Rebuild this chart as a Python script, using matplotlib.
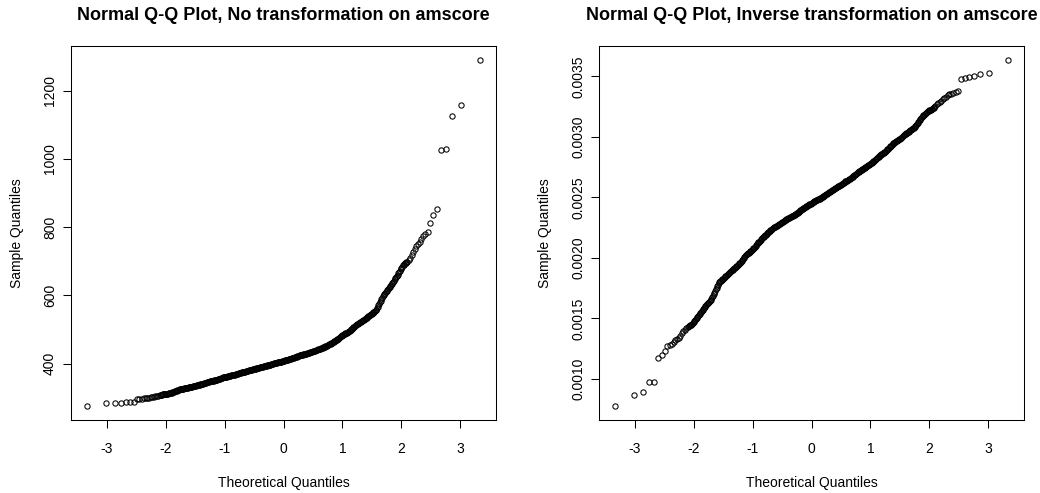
import numpy as np
import matplotlib
matplotlib.use("Agg")
import matplotlib.pyplot as plt
from matplotlib.ticker import FormatStrFormatter

plt.rcParams['font.family'] = ['Liberation Sans', 'DejaVu Sans']
plt.rcParams['axes.unicode_minus'] = False

# sorted amscore, with its theoretical quantiles
# lower tail (single points)
theo_q_low = [-3.34, -3.02, -2.865, -2.755, -2.67, -2.60, -2.545, -2.495, -2.45, -2.41,
              -2.37, -2.34, -2.31, -2.28, -2.25, -2.225, -2.20, -2.18, -2.155, -2.135]
amscore_low = [275, 283.5, 284, 285.5, 286, 286.5, 287.5, 296, 296.8, 297.3,
               297.8, 298.3, 299, 300, 301, 302, 303, 304, 305, 306]

# body of the distribution (the solid band)
theo_q_body = [
    -2.1000, -2.0875, -2.0750, -2.0625, -2.0500, -2.0375, -2.0250, -2.0125,
    -2.0000, -1.9875, -1.9750, -1.9625, -1.9500, -1.9375, -1.9250, -1.9125,
    -1.9000, -1.8875, -1.8750, -1.8625, -1.8500, -1.8375, -1.8250, -1.8125,
    -1.8000, -1.7875, -1.7750, -1.7625, -1.7500, -1.7375, -1.7250, -1.7125,
    -1.7000, -1.6875, -1.6750, -1.6625, -1.6500, -1.6375, -1.6250, -1.6125,
    -1.6000, -1.5875, -1.5750, -1.5625, -1.5500, -1.5375, -1.5250, -1.5125,
    -1.5000, -1.4875, -1.4750, -1.4625, -1.4500, -1.4375, -1.4250, -1.4125,
    -1.4000, -1.3875, -1.3750, -1.3625, -1.3500, -1.3375, -1.3250, -1.3125,
    -1.3000, -1.2875, -1.2750, -1.2625, -1.2500, -1.2375, -1.2250, -1.2125,
    -1.2000, -1.1875, -1.1750, -1.1625, -1.1500, -1.1375, -1.1250, -1.1125,
    -1.1000, -1.0875, -1.0750, -1.0625, -1.0500, -1.0375, -1.0250, -1.0125,
    -1.0000, -0.9875, -0.9750, -0.9625, -0.9500, -0.9375, -0.9250, -0.9125,
    -0.9000, -0.8875, -0.8750, -0.8625, -0.8500, -0.8375, -0.8250, -0.8125,
    -0.8000, -0.7875, -0.7750, -0.7625, -0.7500, -0.7375, -0.7250, -0.7125,
    -0.7000, -0.6875, -0.6750, -0.6625, -0.6500, -0.6375, -0.6250, -0.6125,
    -0.6000, -0.5875, -0.5750, -0.5625, -0.5500, -0.5375, -0.5250, -0.5125,
    -0.5000, -0.4875, -0.4750, -0.4625, -0.4500, -0.4375, -0.4250, -0.4125,
    -0.4000, -0.3875, -0.3750, -0.3625, -0.3500, -0.3375, -0.3250, -0.3125,
    -0.3000, -0.2875, -0.2750, -0.2625, -0.2500, -0.2375, -0.2250, -0.2125,
    -0.2000, -0.1875, -0.1750, -0.1625, -0.1500, -0.1375, -0.1250, -0.1125,
    -0.1000, -0.0875, -0.0750, -0.0625, -0.0500, -0.0375, -0.0250, -0.0125,
    0.0000, 0.0125, 0.0250, 0.0375, 0.0500, 0.0625, 0.0750, 0.0875,
    0.1000, 0.1125, 0.1250, 0.1375, 0.1500, 0.1625, 0.1750, 0.1875,
    0.2000, 0.2125, 0.2250, 0.2375, 0.2500, 0.2625, 0.2750, 0.2875,
    0.3000, 0.3125, 0.3250, 0.3375, 0.3500, 0.3625, 0.3750, 0.3875,
    0.4000, 0.4125, 0.4250, 0.4375, 0.4500, 0.4625, 0.4750, 0.4875,
    0.5000, 0.5125, 0.5250, 0.5375, 0.5500, 0.5625, 0.5750, 0.5875,
    0.6000, 0.6125, 0.6250, 0.6375, 0.6500, 0.6625, 0.6750, 0.6875,
    0.7000, 0.7125, 0.7250, 0.7375, 0.7500, 0.7625, 0.7750, 0.7875,
    0.8000, 0.8125, 0.8250, 0.8375, 0.8500, 0.8625, 0.8750, 0.8875,
    0.9000, 0.9125, 0.9250, 0.9375, 0.9500, 0.9625, 0.9750, 0.9875,
    1.0000, 1.0125, 1.0250, 1.0375, 1.0500, 1.0625, 1.0750, 1.0875,
    1.1000, 1.1125, 1.1250, 1.1375, 1.1500, 1.1625, 1.1750, 1.1875,
    1.2000, 1.2125, 1.2250, 1.2375, 1.2500, 1.2625, 1.2750, 1.2875,
    1.3000, 1.3125, 1.3250, 1.3375, 1.3500, 1.3625, 1.3750, 1.3875,
    1.4000, 1.4125, 1.4250, 1.4375, 1.4500, 1.4625, 1.4750, 1.4875,
    1.5000, 1.5125, 1.5250, 1.5375, 1.5500, 1.5625, 1.5750, 1.5875,
    1.6000, 1.6125, 1.6250, 1.6375, 1.6500, 1.6625, 1.6750, 1.6875,
    1.7000, 1.7125, 1.7250, 1.7375, 1.7500, 1.7625, 1.7750, 1.7875,
    1.8000, 1.8125, 1.8250, 1.8375, 1.8500, 1.8625, 1.8750, 1.8875,
    1.9000, 1.9125, 1.9250, 1.9375, 1.9500, 1.9625, 1.9750, 1.9875,
    2.0000, 2.0125, 2.0250, 2.0375, 2.0500, 2.0625, 2.0750, 2.0875,
    2.1000]
amscore_body = [
    307.5, 308, 308.5, 309, 309.5, 309.8, 310, 310.3,
    310.5, 311, 311.5, 312, 312.5, 313, 313.5, 314,
    314.5, 315.2, 316, 317, 318, 318.8, 319.5, 320.2,
    321, 322, 323, 323.8, 324.5, 325, 325.5, 326,
    326.5, 327, 327.5, 328, 328.5, 329, 329.5, 330,
    330.5, 331, 331.5, 332, 332.5, 333.2, 334, 334.5,
    335, 335.5, 336, 336.5, 337, 337.5, 338, 338.5,
    339, 339.5, 340, 340.8, 341.5, 342.2, 343, 343.8,
    344.5, 345.2, 346, 346.8, 347.5, 348, 348.5, 349,
    349.5, 350, 350.5, 351.2, 352, 352.5, 353, 353.8,
    354.5, 355.2, 356, 356.8, 357.5, 358.2, 359, 359.5,
    360, 360.5, 361, 361.5, 362, 362.5, 363, 363.8,
    364.5, 365, 365.5, 366, 366.5, 367, 367.5, 368.2,
    369, 369.5, 370, 370.8, 371.5, 372.2, 373, 373.8,
    374.5, 375, 375.5, 376, 376.5, 377.2, 378, 378.5,
    379, 379.5, 380, 380.8, 381.5, 382, 382.5, 383.2,
    384, 384.5, 385, 385.5, 386, 386.5, 387, 387.8,
    388.5, 389, 389.5, 390.2, 391, 391.5, 392, 392.8,
    393.5, 394, 394.5, 395.2, 396, 396.5, 397, 397.8,
    398.5, 399, 399.5, 400.2, 401, 401.5, 402, 402.5,
    403, 403.5, 404, 404.5, 405, 405.8, 406.5, 407.2,
    408, 408.5, 409, 409.5, 410, 410.8, 411.5, 412,
    412.5, 413.2, 414, 414.8, 415.5, 416.2, 417, 418,
    419, 419.8, 420.5, 421.2, 422, 422.8, 423.5, 424.2,
    425, 425.5, 426, 426.5, 427, 427.8, 428.5, 429,
    429.5, 430.2, 431, 431.8, 432.5, 433.2, 434, 434.8,
    435.5, 436.2, 437, 438, 439, 439.8, 440.5, 441.2,
    442, 442.8, 443.5, 444.2, 445, 446, 447, 448,
    449, 450, 451, 452.2, 453.5, 454.8, 456, 457.2,
    458.5, 459.8, 461, 462.5, 464, 465.5, 467, 468.5,
    470, 471.5, 473, 474.5, 476, 477.8, 479.5, 481.2,
    483, 484.2, 485.5, 486.8, 488, 489.2, 490.5, 491.8,
    493, 494.8, 496.5, 498.2, 500, 502, 504, 506,
    508, 509.8, 511.5, 513.2, 515, 516.5, 518, 519.5,
    521, 522.5, 524, 525.5, 527, 528.5, 530, 531.5,
    533, 534.5, 536, 537.8, 539.5, 541.2, 543, 544.8,
    546.5, 548.2, 550, 551.5, 553, 555.5, 558, 562,
    566, 570.5, 575, 579.5, 584, 588.5, 593, 597,
    601, 604, 607, 610, 613, 616, 619, 622,
    625, 628, 631, 634, 637, 640, 643, 646.5,
    650, 653.5, 657, 660.5, 664, 668, 672, 676,
    680, 684, 688, 690, 692, 693.5, 695, 696.5,
    698]

# upper tail (single points)
theo_q_high = [2.135, 2.155, 2.18, 2.20, 2.225, 2.25, 2.28, 2.31, 2.34, 2.37,
               2.41, 2.45, 2.495, 2.545, 2.60, 2.67, 2.755, 2.865, 3.02, 3.34]
amscore_high = [703, 710, 718, 726, 737, 745, 750, 757, 765, 774,
                780, 784, 811, 834, 854, 1025, 1030, 1124, 1157, 1290]

x_ticks = [-3, -2, -1, 0, 1, 2, 3]
raw_yticks = [400, 600, 800, 1000, 1200]
inv_yticks = [0.0010, 0.0015, 0.0020, 0.0025, 0.0030, 0.0035]


def r_limits(v):
    # R style axis range: data range extended by 4% on each side
    lo, hi = np.min(v), np.max(v)
    pad = 0.04 * (hi - lo)
    return lo - pad, hi + pad


def qq_panel(ax, x, y, title, yticks, yfmt=None):
    ax.plot(x, y, linestyle='none', marker='o', ms=3.8, mfc='none',
            mec='black', mew=0.75)
    ax.set_xlim(r_limits(x))
    ax.set_ylim(r_limits(y))
    ax.set_xticks(x_ticks)
    ax.set_yticks(yticks)
    if yfmt:
        ax.yaxis.set_major_formatter(FormatStrFormatter(yfmt))
    for s in ax.spines.values():
        s.set_linewidth(0.75)
    ax.tick_params(direction='out', length=5.5, width=0.75, labelsize=10)
    ax.tick_params(axis='x', pad=10.5)
    ax.tick_params(axis='y', pad=4.5, labelrotation=90)
    plt.setp(ax.get_yticklabels(), va='center')
    ax.set_title(title, fontsize=13, fontweight='bold', pad=18.5)
    ax.set_xlabel('Theoretical Quantiles', fontsize=10, labelpad=14)
    ax.set_ylabel('Sample Quantiles', fontsize=10, labelpad=14)


theo_q = np.array(theo_q_low + theo_q_body + theo_q_high)
amscore = np.array(amscore_low + amscore_body + amscore_high)

# inverse transformation: 1/amscore, ranks reverse so quantiles flip sign
inv_q = -theo_q
inv_score = 1.0 / amscore

fig = plt.figure(figsize=(10.4, 4.93), dpi=100)
ax1 = fig.add_axes([71 / 1040, 73 / 493, 425 / 1040, 374 / 493])
ax2 = fig.add_axes([599 / 1040, 73 / 493, 425 / 1040, 374 / 493])

qq_panel(ax1, theo_q, amscore, 'Normal Q-Q Plot, No transformation on amscore', raw_yticks)
qq_panel(ax2, inv_q, inv_score, 'Normal Q-Q Plot, Inverse transformation on amscore',
         inv_yticks, '%.4f')

fig.savefig('out.png', dpi=100)
